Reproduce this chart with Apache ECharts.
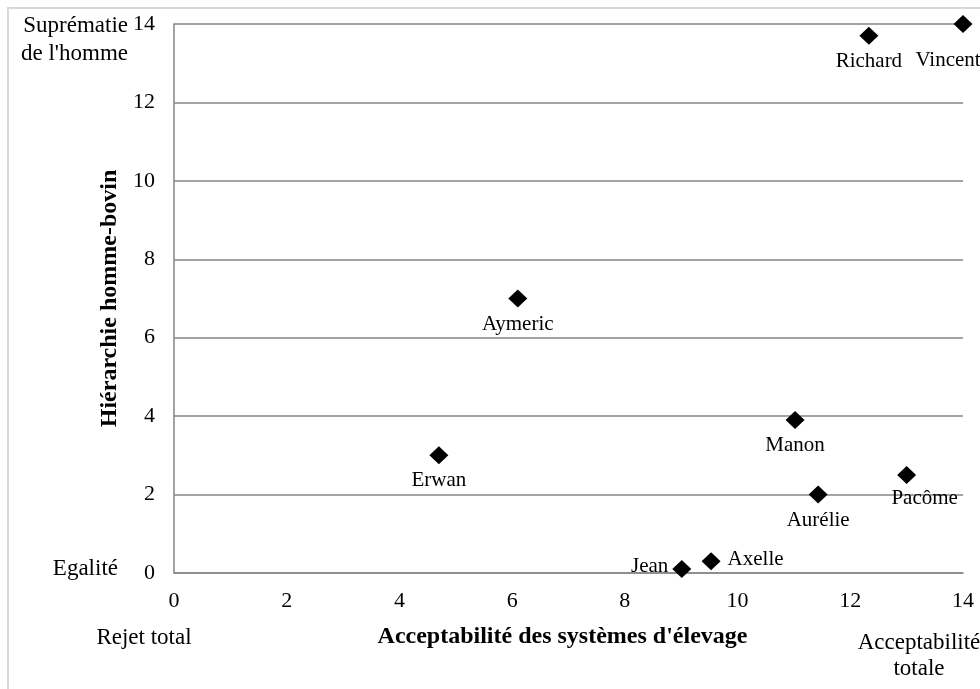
<!DOCTYPE html>
<html>
<head>
<meta charset="utf-8">
<script src="https://cdn.jsdelivr.net/npm/echarts@6/dist/echarts.min.js"></script>
<style>
  html, body { margin: 0; padding: 0; background: #fff; }
  #main { width: 980px; height: 689px; }
</style>
</head>
<body>
<div id="main"></div>
<script>
// personnes et positions
var names = ['Vincent', 'Richard', 'Aymeric', 'Erwan', 'Manon', 'Pacôme', 'Aurélie', 'Axelle', 'Jean'];
var acceptabilite = [14, 12.33, 6.1, 4.7, 11.02, 13, 11.43, 9.53, 9.01];
var hierarchie = [14, 13.7, 7, 3, 3.9, 2.5, 2, 0.3, 0.1];
var xTicks = [0, 2, 4, 6, 8, 10, 12, 14];
var yTicks = [0, 2, 4, 6, 8, 10, 12, 14];

var font = 'Liberation Serif';

// position des étiquettes (la plupart en dessous)
var labelPos = {
    'Vincent': { position: 'bottom', offset: [-15, 11] },
    'Pacôme': { position: 'bottom', offset: [18, -2] },
    'Jean': { position: 'left', distance: 4, offset: [0, -3] },
    'Axelle': { position: 'right', distance: 7, offset: [0, -2] }
};

var data = names.map(function (n, i) {
    var item = { name: n, value: [acceptabilite[i], hierarchie[i]] };
    if (labelPos[n]) item.label = labelPos[n];
    return item;
});

var myChart = echarts.init(document.getElementById('main'));

var option = {
    backgroundColor: '#fff',
    animation: false,
    textStyle: { fontFamily: font },
    grid: { left: 174, right: 17, top: 24, bottom: 116, containLabel: false },
    xAxis: {
        type: 'value',
        min: xTicks[0],
        max: xTicks[xTicks.length - 1],
        interval: 2,
        name: "Acceptabilité des systèmes d'élevage",
        nameLocation: 'middle',
        nameGap: 52,
        nameTextStyle: { fontFamily: font, fontWeight: 'bold', fontSize: 24, color: '#000', padding: [0, 12, 0, 0] },
        axisLine: { show: true, lineStyle: { color: '#868686', width: 1.5 } },
        axisTick: { show: false },
        splitLine: { show: false },
        axisLabel: { fontFamily: font, fontSize: 22, color: '#000', margin: 17 }
    },
    yAxis: {
        type: 'value',
        min: yTicks[0],
        max: yTicks[yTicks.length - 1],
        interval: 2,
        name: 'Hiérarchie homme-bovin',
        nameLocation: 'middle',
        nameGap: 45,
        nameTextStyle: { fontFamily: font, fontWeight: 'bold', fontSize: 24, color: '#000' },
        axisLine: { show: true, lineStyle: { color: '#868686', width: 1.5 } },
        axisTick: { show: false },
        splitLine: { show: true, lineStyle: { color: '#868686', width: 1.5 } },
        axisLabel: { fontFamily: font, fontSize: 22, color: '#000', margin: 19 }
    },
    series: [
        {
            type: 'scatter',
            symbol: 'diamond',
            symbolSize: [19, 18],
            itemStyle: { color: '#000', opacity: 1 },
            label: {
                show: true,
                position: 'bottom',
                distance: 6,
                formatter: '{b}',
                fontFamily: font,
                fontSize: 21,
                color: '#000'
            },
            data: data
        }
    ],
    graphic: [
        {
            type: 'rect',
            shape: { x: 8, y: 8, width: 1200, height: 1200 },
            style: { fill: 'none', stroke: '#d9d9d9', lineWidth: 2 },
            silent: true
        },
        {
            type: 'text', x: 128, y: 40,
            style: { text: 'Suprématie\nde l\'homme', font: '23px "Liberation Serif"', fill: '#000',
                     textAlign: 'right', textVerticalAlign: 'middle', lineHeight: 28 }
        },
        {
            type: 'text', x: 118, y: 569,
            style: { text: 'Egalité', font: '23px "Liberation Serif"', fill: '#000',
                     textAlign: 'right', textVerticalAlign: 'middle' }
        },
        {
            type: 'text', x: 144, y: 638,
            style: { text: 'Rejet total', font: '23px "Liberation Serif"', fill: '#000',
                     textAlign: 'center', textVerticalAlign: 'middle' }
        },
        {
            type: 'text', x: 919, y: 656,
            style: { text: 'Acceptabilité\ntotale', font: '23px "Liberation Serif"', fill: '#000',
                     textAlign: 'center', textVerticalAlign: 'middle', lineHeight: 26 }
        }
    ]
};

myChart.setOption(option);
</script>
</body>
</html>
